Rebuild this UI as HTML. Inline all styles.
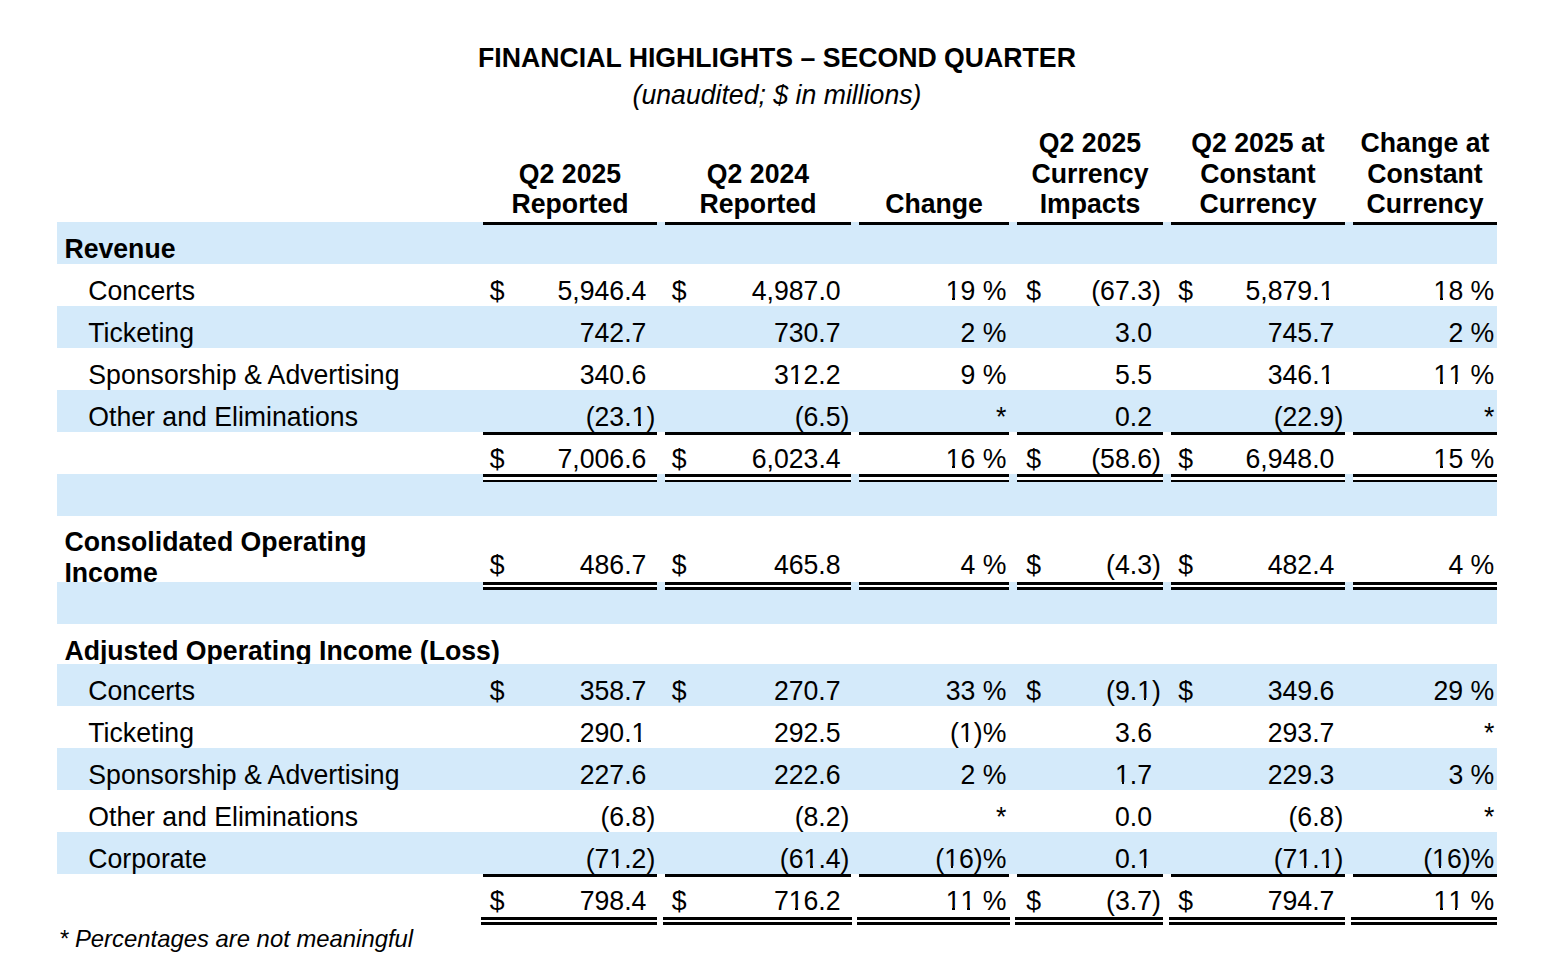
<!DOCTYPE html>
<html><head><meta charset="utf-8"><title>Financial Highlights</title>
<style>
html,body{margin:0;padding:0;background:#fff;}
body{width:1554px;height:972px;position:relative;overflow:hidden;font-family:"Liberation Sans",Arial,Helvetica,sans-serif;font-size:26.6667px;color:#000;}
.t{position:absolute;line-height:30px;white-space:nowrap;transform:scaleY(1.04);transform-origin:0 24px;}
.b{font-weight:bold;}
.i{font-style:italic;}
.fn{font-size:23.87px;}
.sh{position:absolute;left:57px;width:1440px;background:#d4eafa;}
.ln{position:absolute;background:#000;}
.wh{position:absolute;background:#fff;}
.clip{position:absolute;left:0;width:1554px;overflow:hidden;}
.o{position:relative;}
.o::before,.o::after{content:"";position:absolute;bottom:calc(0.212em - 0.7px);height:3.5px;background:#fff;}
.o::before{left:0.0195em;width:0.2305em;}
.o::after{left:0.3413em;width:0.2349em;}
.o.s::before,.o.s::after{background:#d4eafa;}
</style></head><body>
<div class="sh" style="top:222px;height:42px"></div><div class="sh" style="top:306px;height:42px"></div><div class="sh" style="top:390px;height:42px"></div><div class="sh" style="top:474px;height:42px"></div><div class="sh" style="top:582px;height:42px"></div><div class="sh" style="top:664px;height:42px"></div><div class="sh" style="top:748px;height:42px"></div><div class="sh" style="top:832px;height:42px"></div>
<div class="t b" style="left:0;width:1554px;text-align:center;top:42.70px">FINANCIAL HIGHLIGHTS – SECOND QUARTER</div>
<div class="t i" style="left:0;width:1554px;text-align:center;top:80.00px">(unaudited; $ in millions)</div>
<div class="t b" style="left:483px;width:174px;text-align:center;top:158.50px">Q2 2025</div>
<div class="t b" style="left:483px;width:174px;text-align:center;top:189.00px">Reported</div>
<div class="t b" style="left:665px;width:186px;text-align:center;top:158.50px">Q2 2024</div>
<div class="t b" style="left:665px;width:186px;text-align:center;top:189.00px">Reported</div>
<div class="t b" style="left:859px;width:150px;text-align:center;top:189.00px">Change</div>
<div class="t b" style="left:1017px;width:146px;text-align:center;top:128.00px">Q2 2025</div>
<div class="t b" style="left:1017px;width:146px;text-align:center;top:158.50px">Currency</div>
<div class="t b" style="left:1017px;width:146px;text-align:center;top:189.00px">Impacts</div>
<div class="t b" style="left:1171px;width:174px;text-align:center;top:128.00px">Q2 2025 at</div>
<div class="t b" style="left:1171px;width:174px;text-align:center;top:158.50px">Constant</div>
<div class="t b" style="left:1171px;width:174px;text-align:center;top:189.00px">Currency</div>
<div class="t b" style="left:1353px;width:144px;text-align:center;top:128.00px">Change at</div>
<div class="t b" style="left:1353px;width:144px;text-align:center;top:158.50px">Constant</div>
<div class="t b" style="left:1353px;width:144px;text-align:center;top:189.00px">Currency</div>
<div class="ln" style="left:483px;top:222px;width:174px;height:3px"></div>
<div class="ln" style="left:665px;top:222px;width:186px;height:3px"></div>
<div class="ln" style="left:859px;top:222px;width:150px;height:3px"></div>
<div class="ln" style="left:1017px;top:222px;width:146px;height:3px"></div>
<div class="ln" style="left:1171px;top:222px;width:174px;height:3px"></div>
<div class="ln" style="left:1353px;top:222px;width:144px;height:3px"></div>
<div class="t b" style="left:64.40px;top:234.00px;">Revenue</div>
<div class="t " style="left:88.30px;top:276.00px;">Concerts</div>
<div class="t " style="left:489.80px;top:276.00px;">$</div>
<div class="t " style="right:907.60px;top:276.00px;">5,946.4</div>
<div class="t " style="left:671.70px;top:276.00px;">$</div>
<div class="t " style="right:713.40px;top:276.00px;">4,987.0</div>
<div class="t " style="right:547.60px;top:276.00px;"><span class="o">1</span>9 %</div>
<div class="t " style="left:1026.25px;top:276.00px;">$</div>
<div class="t " style="right:402.00px;top:276.00px;">(67.3</div>
<div class="t " style="left:1152.00px;top:276.00px;">)</div>
<div class="t " style="left:1178.20px;top:276.00px;">$</div>
<div class="t " style="right:219.60px;top:276.00px;">5,879.<span class="o">1</span></div>
<div class="t " style="right:59.70px;top:276.00px;"><span class="o">1</span>8 %</div>
<div class="t " style="left:88.30px;top:318.00px;">Ticketing</div>
<div class="t " style="right:907.60px;top:318.00px;">742.7</div>
<div class="t " style="right:713.40px;top:318.00px;">730.7</div>
<div class="t " style="right:547.60px;top:318.00px;">2 %</div>
<div class="t " style="right:402.00px;top:318.00px;">3.0</div>
<div class="t " style="right:219.60px;top:318.00px;">745.7</div>
<div class="t " style="right:59.70px;top:318.00px;">2 %</div>
<div class="t " style="left:88.30px;top:360.00px;">Sponsorship &amp; Advertising</div>
<div class="t " style="right:907.60px;top:360.00px;">340.6</div>
<div class="t " style="right:713.40px;top:360.00px;">3<span class="o">1</span>2.2</div>
<div class="t " style="right:547.60px;top:360.00px;">9 %</div>
<div class="t " style="right:402.00px;top:360.00px;">5.5</div>
<div class="t " style="right:219.60px;top:360.00px;">346.<span class="o">1</span></div>
<div class="t " style="right:59.70px;top:360.00px;"><span class="o">1</span><span class="o">1</span> %</div>
<div class="t " style="left:88.30px;top:402.00px;">Other and Eliminations</div>
<div class="t " style="right:907.60px;top:402.00px;">(23.<span class="o s">1</span></div>
<div class="t " style="left:646.40px;top:402.00px;">)</div>
<div class="t " style="right:713.40px;top:402.00px;">(6.5</div>
<div class="t " style="left:840.60px;top:402.00px;">)</div>
<div class="t " style="right:547.60px;top:402.00px;">*</div>
<div class="t " style="right:402.00px;top:402.00px;">0.2</div>
<div class="t " style="right:219.60px;top:402.00px;">(22.9</div>
<div class="t " style="left:1334.40px;top:402.00px;">)</div>
<div class="t " style="right:59.70px;top:402.00px;">*</div>
<div class="ln" style="left:483px;top:432px;width:174px;height:3px"></div>
<div class="ln" style="left:665px;top:432px;width:186px;height:3px"></div>
<div class="ln" style="left:859px;top:432px;width:150px;height:3px"></div>
<div class="ln" style="left:1017px;top:432px;width:146px;height:3px"></div>
<div class="ln" style="left:1171px;top:432px;width:174px;height:3px"></div>
<div class="ln" style="left:1353px;top:432px;width:144px;height:3px"></div>
<div class="t " style="left:489.80px;top:444.00px;">$</div>
<div class="t " style="right:907.60px;top:444.00px;">7,006.6</div>
<div class="t " style="left:671.70px;top:444.00px;">$</div>
<div class="t " style="right:713.40px;top:444.00px;">6,023.4</div>
<div class="t " style="right:547.60px;top:444.00px;"><span class="o">1</span>6 %</div>
<div class="t " style="left:1026.25px;top:444.00px;">$</div>
<div class="t " style="right:402.00px;top:444.00px;">(58.6</div>
<div class="t " style="left:1152.00px;top:444.00px;">)</div>
<div class="t " style="left:1178.20px;top:444.00px;">$</div>
<div class="t " style="right:219.60px;top:444.00px;">6,948.0</div>
<div class="t " style="right:59.70px;top:444.00px;"><span class="o">1</span>5 %</div>
<div class="ln" style="left:483px;top:474px;width:174px;height:3px"></div>
<div class="wh" style="left:483px;top:477px;width:174px;height:3px"></div>
<div class="ln" style="left:483px;top:480px;width:174px;height:2px"></div>
<div class="ln" style="left:665px;top:474px;width:186px;height:3px"></div>
<div class="wh" style="left:665px;top:477px;width:186px;height:3px"></div>
<div class="ln" style="left:665px;top:480px;width:186px;height:2px"></div>
<div class="ln" style="left:859px;top:474px;width:150px;height:3px"></div>
<div class="wh" style="left:859px;top:477px;width:150px;height:3px"></div>
<div class="ln" style="left:859px;top:480px;width:150px;height:2px"></div>
<div class="ln" style="left:1017px;top:474px;width:146px;height:3px"></div>
<div class="wh" style="left:1017px;top:477px;width:146px;height:3px"></div>
<div class="ln" style="left:1017px;top:480px;width:146px;height:2px"></div>
<div class="ln" style="left:1171px;top:474px;width:174px;height:3px"></div>
<div class="wh" style="left:1171px;top:477px;width:174px;height:3px"></div>
<div class="ln" style="left:1171px;top:480px;width:174px;height:2px"></div>
<div class="ln" style="left:1353px;top:474px;width:144px;height:3px"></div>
<div class="wh" style="left:1353px;top:477px;width:144px;height:3px"></div>
<div class="ln" style="left:1353px;top:480px;width:144px;height:2px"></div>
<div class="clip" style="top:516px;height:66px"><div class="t b" style="left:64.4px;top:11.40px">Consolidated Operating</div><div class="t b" style="left:64.4px;top:42.20px">Income</div></div>
<div class="t " style="left:489.80px;top:550.00px;">$</div>
<div class="t " style="right:907.60px;top:550.00px;">486.7</div>
<div class="t " style="left:671.70px;top:550.00px;">$</div>
<div class="t " style="right:713.40px;top:550.00px;">465.8</div>
<div class="t " style="right:547.60px;top:550.00px;">4 %</div>
<div class="t " style="left:1026.25px;top:550.00px;">$</div>
<div class="t " style="right:402.00px;top:550.00px;">(4.3</div>
<div class="t " style="left:1152.00px;top:550.00px;">)</div>
<div class="t " style="left:1178.20px;top:550.00px;">$</div>
<div class="t " style="right:219.60px;top:550.00px;">482.4</div>
<div class="t " style="right:59.70px;top:550.00px;">4 %</div>

<div class="ln" style="left:483px;top:582px;width:174px;height:3px"></div>
<div class="wh" style="left:483px;top:585px;width:174px;height:2px"></div>
<div class="ln" style="left:483px;top:587px;width:174px;height:3px"></div>
<div class="ln" style="left:665px;top:582px;width:186px;height:3px"></div>
<div class="wh" style="left:665px;top:585px;width:186px;height:2px"></div>
<div class="ln" style="left:665px;top:587px;width:186px;height:3px"></div>
<div class="ln" style="left:859px;top:582px;width:150px;height:3px"></div>
<div class="wh" style="left:859px;top:585px;width:150px;height:2px"></div>
<div class="ln" style="left:859px;top:587px;width:150px;height:3px"></div>
<div class="ln" style="left:1017px;top:582px;width:146px;height:3px"></div>
<div class="wh" style="left:1017px;top:585px;width:146px;height:2px"></div>
<div class="ln" style="left:1017px;top:587px;width:146px;height:3px"></div>
<div class="ln" style="left:1171px;top:582px;width:174px;height:3px"></div>
<div class="wh" style="left:1171px;top:585px;width:174px;height:2px"></div>
<div class="ln" style="left:1171px;top:587px;width:174px;height:3px"></div>
<div class="ln" style="left:1353px;top:582px;width:144px;height:3px"></div>
<div class="wh" style="left:1353px;top:585px;width:144px;height:2px"></div>
<div class="ln" style="left:1353px;top:587px;width:144px;height:3px"></div>
<div class="clip" style="top:624px;height:40px"><div class="t b" style="left:64.4px;top:12.00px">Adjusted Operating Income (Loss)</div></div>
<div class="t " style="left:88.30px;top:676.00px;">Concerts</div>
<div class="t " style="left:489.80px;top:676.00px;">$</div>
<div class="t " style="right:907.60px;top:676.00px;">358.7</div>
<div class="t " style="left:671.70px;top:676.00px;">$</div>
<div class="t " style="right:713.40px;top:676.00px;">270.7</div>
<div class="t " style="right:547.60px;top:676.00px;">33 %</div>
<div class="t " style="left:1026.25px;top:676.00px;">$</div>
<div class="t " style="right:402.00px;top:676.00px;">(9.<span class="o s">1</span></div>
<div class="t " style="left:1152.00px;top:676.00px;">)</div>
<div class="t " style="left:1178.20px;top:676.00px;">$</div>
<div class="t " style="right:219.60px;top:676.00px;">349.6</div>
<div class="t " style="right:59.70px;top:676.00px;">29 %</div>
<div class="t " style="left:88.30px;top:718.00px;">Ticketing</div>
<div class="t " style="right:907.60px;top:718.00px;">290.<span class="o">1</span></div>
<div class="t " style="right:713.40px;top:718.00px;">292.5</div>
<div class="t " style="right:547.60px;top:718.00px;">(<span class="o">1</span>)%</div>
<div class="t " style="right:402.00px;top:718.00px;">3.6</div>
<div class="t " style="right:219.60px;top:718.00px;">293.7</div>
<div class="t " style="right:59.70px;top:718.00px;">*</div>
<div class="t " style="left:88.30px;top:760.00px;">Sponsorship &amp; Advertising</div>
<div class="t " style="right:907.60px;top:760.00px;">227.6</div>
<div class="t " style="right:713.40px;top:760.00px;">222.6</div>
<div class="t " style="right:547.60px;top:760.00px;">2 %</div>
<div class="t " style="right:402.00px;top:760.00px;"><span class="o s">1</span>.7</div>
<div class="t " style="right:219.60px;top:760.00px;">229.3</div>
<div class="t " style="right:59.70px;top:760.00px;">3 %</div>
<div class="t " style="left:88.30px;top:802.00px;">Other and Eliminations</div>
<div class="t " style="right:907.60px;top:802.00px;">(6.8</div>
<div class="t " style="left:646.40px;top:802.00px;">)</div>
<div class="t " style="right:713.40px;top:802.00px;">(8.2</div>
<div class="t " style="left:840.60px;top:802.00px;">)</div>
<div class="t " style="right:547.60px;top:802.00px;">*</div>
<div class="t " style="right:402.00px;top:802.00px;">0.0</div>
<div class="t " style="right:219.60px;top:802.00px;">(6.8</div>
<div class="t " style="left:1334.40px;top:802.00px;">)</div>
<div class="t " style="right:59.70px;top:802.00px;">*</div>
<div class="t " style="left:88.30px;top:844.00px;">Corporate</div>
<div class="t " style="right:907.60px;top:844.00px;">(7<span class="o s">1</span>.2</div>
<div class="t " style="left:646.40px;top:844.00px;">)</div>
<div class="t " style="right:713.40px;top:844.00px;">(6<span class="o s">1</span>.4</div>
<div class="t " style="left:840.60px;top:844.00px;">)</div>
<div class="t " style="right:547.60px;top:844.00px;">(<span class="o s">1</span>6)%</div>
<div class="t " style="right:402.00px;top:844.00px;">0.<span class="o s">1</span></div>
<div class="t " style="right:219.60px;top:844.00px;">(7<span class="o s">1</span>.<span class="o s">1</span></div>
<div class="t " style="left:1334.40px;top:844.00px;">)</div>
<div class="t " style="right:59.70px;top:844.00px;">(<span class="o s">1</span>6)%</div>
<div class="ln" style="left:483px;top:874px;width:174px;height:3px"></div>
<div class="ln" style="left:665px;top:874px;width:186px;height:3px"></div>
<div class="ln" style="left:859px;top:874px;width:150px;height:3px"></div>
<div class="ln" style="left:1017px;top:874px;width:146px;height:3px"></div>
<div class="ln" style="left:1171px;top:874px;width:174px;height:3px"></div>
<div class="ln" style="left:1353px;top:874px;width:144px;height:3px"></div>
<div class="t " style="left:489.80px;top:886.00px;">$</div>
<div class="t " style="right:907.60px;top:886.00px;">798.4</div>
<div class="t " style="left:671.70px;top:886.00px;">$</div>
<div class="t " style="right:713.40px;top:886.00px;">7<span class="o">1</span>6.2</div>
<div class="t " style="right:547.60px;top:886.00px;"><span class="o">1</span><span class="o">1</span> %</div>
<div class="t " style="left:1026.25px;top:886.00px;">$</div>
<div class="t " style="right:402.00px;top:886.00px;">(3.7</div>
<div class="t " style="left:1152.00px;top:886.00px;">)</div>
<div class="t " style="left:1178.20px;top:886.00px;">$</div>
<div class="t " style="right:219.60px;top:886.00px;">794.7</div>
<div class="t " style="right:59.70px;top:886.00px;"><span class="o">1</span><span class="o">1</span> %</div>
<div class="ln" style="left:481px;top:917px;width:176px;height:3px"></div>
<div class="wh" style="left:481px;top:920px;width:176px;height:2px"></div>
<div class="ln" style="left:481px;top:922px;width:176px;height:3px"></div>
<div class="ln" style="left:663px;top:917px;width:189px;height:3px"></div>
<div class="wh" style="left:663px;top:920px;width:189px;height:2px"></div>
<div class="ln" style="left:663px;top:922px;width:189px;height:3px"></div>
<div class="ln" style="left:857px;top:917px;width:153px;height:3px"></div>
<div class="wh" style="left:857px;top:920px;width:153px;height:2px"></div>
<div class="ln" style="left:857px;top:922px;width:153px;height:3px"></div>
<div class="ln" style="left:1015px;top:917px;width:148px;height:3px"></div>
<div class="wh" style="left:1015px;top:920px;width:148px;height:2px"></div>
<div class="ln" style="left:1015px;top:922px;width:148px;height:3px"></div>
<div class="ln" style="left:1169px;top:917px;width:176px;height:3px"></div>
<div class="wh" style="left:1169px;top:920px;width:176px;height:2px"></div>
<div class="ln" style="left:1169px;top:922px;width:176px;height:3px"></div>
<div class="ln" style="left:1351px;top:917px;width:146px;height:3px"></div>
<div class="wh" style="left:1351px;top:920px;width:146px;height:2px"></div>
<div class="ln" style="left:1351px;top:922px;width:146px;height:3px"></div>
<div class="t i fn" style="left:59px;top:923.75px">* Percentages are not meaningful</div>
</body></html>
